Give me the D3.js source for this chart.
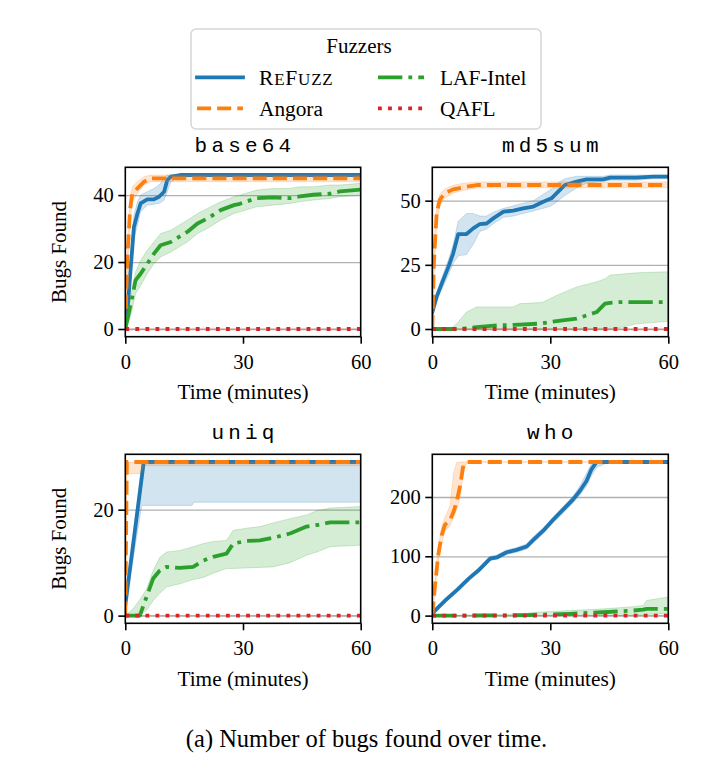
<!DOCTYPE html>
<html>
<head>
<meta charset="utf-8">
<script src="https://cdn.jsdelivr.net/npm/d3@7"></script>
<style>
html,body{margin:0;background:#fff}
svg{display:block}
text{font-family:"Liberation Serif","Times New Roman",serif;fill:#000}
</style>
</head>
<body>
<svg id="fig" width="721" height="775"></svg>
<script>
// ── Bugs found over time, 4 benchmarks × 4 fuzzers (median line + min/max band) ──

const TITLES=['base64','md5sum','uniq','who'];
const FUZZERS=['REFUZZ','Angora','LAF-Intel','QAFL'];
const X_TICKS=[0,30,60];
const b64Ticks=[0,20,40], md5Ticks=[0,25,50], uniqTicks=[0,20], whoTicks=[0,100,200];

// base64
const b64RefT =[0,0.5,1.3,2.2,3.1,3.9,5.6,7.3,8.6,9.9,10.7,11.6,14,60];
const b64Ref  =[3,4.5,17,30.5,34.5,37.5,38.7,38.7,39.5,41,44.5,45.5,46,46];
const b64RefLo=[2,3,14,27,31,35,37,37.3,37.5,38.5,41,44,45.5,45.5];
const b64RefHi=[4,7,21,34,38,40,41,42,43,45,46,46,46,46];
const b64AngT =[0,0.5,1.2,1.8,3.1,4.8,6.5,8,60];
const b64Ang  =[0,20.5,35.5,40.5,42,44,45,45,45];
const b64AngLo=[0,16,32,38,40.5,43,44,44,44];
const b64AngHi=[0,25,39,42.5,44,45.5,46,46,46];
const b64LafT =[0,1.4,2.6,3.9,5.6,7.3,9,11.6,13.7,15.8,18.4,20.9,24.3,27.7,29.2,33.5,37.7,42,44.5,47.9,52.2,54.7,60];
const b64Laf  =[0,7.5,14.5,16.5,19.5,22.5,25,26,27.5,29,31.5,33,35.5,37,37.4,39.1,39.3,39.1,39.6,40.1,40.4,41.1,41.6];
const b64LafLo=[0,4,10.5,13,16.5,19.5,21.5,23,24.5,26,28.5,30,32.5,34.5,35,36.5,37,37.5,38,38.5,39,39.5,40];
const b64LafHi=[0,10,17,20.5,23.5,26,28.5,29.5,31,32.5,34.5,36,38,39.5,40,41.5,42,42,42.5,42.5,43,43,43.5];
const b64QaflT=[0,60], b64Qafl=[0,0];

// md5sum
const md5RefT =[0,1.1,2.4,4.1,5.3,6.6,8.7,10.4,12.1,13.8,15.5,18.1,20.6,23.1,25.7,28.2,30.3,32,33.7,36.7,39.2,43.5,45.2,51.9,56.2,60];
const md5Ref  =[6.5,12.5,17.7,24.2,29.4,37,37,39.2,40.9,41.1,43.1,45.7,46.1,47,47.7,49.6,50.9,53.5,56.1,57.4,58.3,58.3,59,59,59.4,59.4];
const md5RefLo=[5.5,11,15.5,21,25.5,28.5,29,33,38,39,41,43.5,44,45,46,47,48,50,52,55,56.8,57.5,58,58,58.5,58.5];
const md5RefHi=[7.5,14,20,27,33,42,45,45,44,44,45.5,47,48,49,50,52.5,54.5,57,58.5,59.5,59.5,59.5,60,60,60,60];
const md5AngT =[0,0.4,1.1,1.9,3.2,5.3,7.9,11.3,60];
const md5Ang  =[0,25.5,45,50.3,52.9,54.4,55.2,56.1,56.1];
const md5AngLo=[0,20,41,48,51,53,54,55,55];
const md5AngHi=[0,31,48.5,52.5,54.5,56,56.8,57.3,57.3];
const md5LafT =[0,5,6.2,8.7,11.3,16.4,20.6,22.3,27.4,28.2,31.6,36.7,41.8,43.9,45.2,47.7,51.9,60];
const md5Laf  =[0,0,0,0.2,0.7,1.4,1.6,1.7,2.1,2.3,3.1,4,6.6,9.9,10.2,10.5,10.5,10.5];
const md5LafLo=[0,0,0,0,0,0,0,0,0,0,0,0,0,0,0,0.5,2,3];
const md5LafHi=[0,0.5,2,6.6,8.6,8.6,8.6,9.9,10.3,10.5,13.1,16.4,18.4,19.5,21,21.3,21.9,22.3];
const md5QaflT=[0,60], md5Qafl=[0,0];

// uniq
const uniqRefT =[0,4.2,4.7,17,17.5,60];
const uniqRef  =[2,26.1,29,29,29,29];
const uniqRefLo=[1.5,20.8,20.8,20.8,21.4,21.4];
const uniqRefHi=[3,28.5,29,29,29,29];
const uniqAngT =[0,0.4,3.7,5,60];
const uniqAng  =[0,29,29,29,29];
const uniqAngLo=[0,26.8,26.8,28.3,28.3];
const uniqAngHi=[0,29,29,29,29];
const uniqLafT =[0,2,3.7,5.4,7.1,8.8,10.5,13.9,17.3,19.9,22.4,25.8,27.5,30.9,34.3,37.7,42,46.2,48.8,52.2,60];
const uniqLaf  =[0,0,0,3.5,7,8.5,9.2,9,9.2,10.4,11.1,11.7,13.6,14.1,14.2,14.7,15.5,16.8,17.1,17.6,17.6];
const uniqLafLo=[0,0,0,1,2.8,4.2,5.4,6,6.8,7.2,8,8.9,8.9,9,9.1,9.2,10,11.4,12,13,13.3];
const uniqLafHi=[0,1.3,3,5,8.5,11,12,12.3,13,13.6,14,14.2,16.1,16.5,16.8,17.5,18.3,19,19.8,20.3,20.6];
const uniqQaflT=[0,60], uniqQafl=[0,0];

// who
const whoRefT =[0,3.2,6.6,9.2,11.7,14.7,16.4,18.9,21.4,24,25.7,28.2,30.8,33.3,35.8,37.5,39.2,40.5,41.8,45,60];
const whoRef  =[4,25,45,62,76,96,98,106.8,110.8,116.5,127.8,143.2,162,179,196,210,227,247,259,259,259];
const whoRefLo=[3,22,42,59,73,93,95,103,107,112,123,138,157,173,190,203,218,236,250,259,259];
const whoRefHi=[6,28,49,66,80,100,102,110.5,114.5,121,133,148,167,184,202,218,240,257,259,259,259];
const whoAngT =[0,0.7,1.5,2.4,3.2,4.5,5.4,6.2,7.1,7.9,8.8,60];
const whoAng  =[0,51,102,136,153,161,175,192,220,254,259,259];
const whoAngLo=[0,42,90,122,142,152,165,178,200,240,259,259];
const whoAngHi=[0,60,115,150,165,185,240,258,259,259,259,259];
const whoLafT =[0,18,24,26.5,35,43.5,51,53.6,54.5,60];
const whoLaf  =[0,0.3,1,1.5,3,5.7,8.5,10,11.4,11.4];
const whoLafLo=[0,0,0,0,0,0,0.5,1,2,3];
const whoLafHi=[0,2,4,5.7,8.5,11.4,15,17,25.6,31.3];
const whoQaflT=[0,60], whoQafl=[0,0];

const COLORS=['#1f77b4','#ff7f0e','#2ca02c','#d62728'];
const LW=3.8;
const DASH=[null,`${3.7*LW},${1.6*LW}`,`${6.4*LW},${1.6*LW},${1*LW},${1.6*LW}`,`${1*LW},${1.65*LW}`];

const COL_X=[125.3,432.3], COL_W=[235.4,236];
const ROW_Y=[167.3,454.3], ROW_H=[169.4,169];

function ser(t,v,lo,hi){return {t,v,lo:lo||v,hi:hi||v};}
const panels=[
  {title:TITLES[0],ticks:b64Ticks,ylabel:true,series:[
    ser(b64RefT,b64Ref,b64RefLo,b64RefHi),ser(b64AngT,b64Ang,b64AngLo,b64AngHi),
    ser(b64LafT,b64Laf,b64LafLo,b64LafHi),ser(b64QaflT,b64Qafl)]},
  {title:TITLES[1],ticks:md5Ticks,ylabel:false,series:[
    ser(md5RefT,md5Ref,md5RefLo,md5RefHi),ser(md5AngT,md5Ang,md5AngLo,md5AngHi),
    ser(md5LafT,md5Laf,md5LafLo,md5LafHi),ser(md5QaflT,md5Qafl)]},
  {title:TITLES[2],ticks:uniqTicks,ylabel:true,series:[
    ser(uniqRefT,uniqRef,uniqRefLo,uniqRefHi),ser(uniqAngT,uniqAng,uniqAngLo,uniqAngHi),
    ser(uniqLafT,uniqLaf,uniqLafLo,uniqLafHi),ser(uniqQaflT,uniqQafl)]},
  {title:TITLES[3],ticks:whoTicks,ylabel:false,series:[
    ser(whoRefT,whoRef,whoRefLo,whoRefHi),ser(whoAngT,whoAng,whoAngLo,whoAngHi),
    ser(whoLafT,whoLaf,whoLafLo,whoLafHi),ser(whoQaflT,whoQafl)]}
];

const svg=d3.select('#fig');
svg.append('rect').attr('width',721).attr('height',775).attr('fill','#fff');

function drawPanel(p,i){
  const col=i%2,row=Math.floor(i/2);
  const w=COL_W[col],h=ROW_H[row];
  const all=p.series.flatMap(s=>[...s.v,...s.lo,...s.hi]);
  const lo=d3.min(all),hi=d3.max(all),pad=(hi-lo)*0.05;
  const x=d3.scaleLinear().domain([0,60]).range([0,w]);
  const y=d3.scaleLinear().domain([lo-pad,hi+pad]).range([h,0]);
  const g=svg.append('g').attr('transform',`translate(${COL_X[col]},${ROW_Y[row]})`);

  const cid='clip'+i;
  g.append('clipPath').attr('id',cid).append('rect').attr('width',w).attr('height',h);

  // horizontal grid
  g.append('g').call(d3.axisLeft(y).tickValues(p.ticks).tickSize(-w).tickFormat(''))
    .call(a=>a.select('.domain').remove())
    .selectAll('line').attr('stroke','#b0b0b0').attr('stroke-width',1.3);

  const plot=g.append('g').attr('clip-path',`url(#${cid})`);
  const area=d3.area().x(d=>x(d.t)).y0(d=>y(d.lo)).y1(d=>y(d.hi));
  const line=d3.line().x(d=>x(d.t)).y(d=>y(d.v));

  p.series.forEach((s,k)=>{
    const pts=s.t.map((t,j)=>({t,v:s.v[j],lo:s.lo[j],hi:s.hi[j]}));
    plot.append('path').datum(pts).attr('d',area)
      .attr('fill',COLORS[k]).attr('fill-opacity',0.2)
      .attr('stroke',COLORS[k]).attr('stroke-opacity',0.2).attr('stroke-width',1);
    plot.append('path').datum(pts).attr('d',line)
      .attr('fill','none').attr('stroke',COLORS[k]).attr('stroke-width',LW)
      .attr('stroke-linejoin','round')
      .attr('stroke-linecap',k===0?'square':'butt')
      .attr('stroke-dasharray',DASH[k]);
  });

  // axes
  const xa=g.append('g').attr('transform',`translate(0,${h})`)
    .call(d3.axisBottom(x).tickValues(X_TICKS).tickSize(7).tickPadding(10.5).tickSizeOuter(0));
  const ya=g.append('g')
    .call(d3.axisLeft(y).tickValues(p.ticks).tickSize(7).tickPadding(4.5).tickSizeOuter(0));
  [xa,ya].forEach(a=>{
    a.select('.domain').remove();
    a.selectAll('line').attr('stroke','#000').attr('stroke-width',1.6);
    a.selectAll('text').attr('font-size',20.5).attr('font-family','"Liberation Serif",serif').attr('fill','#000');
  });

  g.append('rect').attr('width',w).attr('height',h)
    .attr('fill','none').attr('stroke','#000').attr('stroke-width',1.6);

  g.append('text').attr('x',w/2+2).attr('y',-15.3).attr('text-anchor','middle')
    .attr('font-size',21).attr('letter-spacing',4.2)
    .style('font-family','"Liberation Mono","DejaVu Sans Mono",monospace')
    .text(p.title);

  g.append('text').attr('x',w/2).attr('y',h+62.3).attr('text-anchor','middle')
    .attr('font-size',21.3).text('Time (minutes)');

  if(p.ylabel){
    g.append('text').attr('transform',`translate(${-59.5},${h/2}) rotate(-90)`)
      .attr('text-anchor','middle').attr('font-size',21).text('Bugs Found');
  }
}
panels.forEach(drawPanel);

// ── legend ──
const lg=svg.append('g');
lg.append('rect').attr('x',191).attr('y',29).attr('width',350).attr('height',100).attr('rx',5)
  .attr('fill','#fff').attr('fill-opacity',0.8).attr('stroke','#d6d6d6').attr('stroke-width',1.5);
lg.append('text').attr('x',359).attr('y',53.3).attr('text-anchor','middle').attr('font-size',21).text('Fuzzers');
const LEG_X=[197,378], LEG_Y=[77.3,108.3];
FUZZERS.forEach((name,k)=>{
  const cx=LEG_X[Math.floor(k/2)], cy=LEG_Y[k%2];
  lg.append('line').attr('x1',cx).attr('x2',cx+46).attr('y1',cy).attr('y2',cy)
    .attr('stroke',COLORS[k]).attr('stroke-width',LW)
    .attr('stroke-linecap',k===0?'square':'butt').attr('stroke-dasharray',DASH[k]);
  const t=lg.append('text').attr('x',cx+62).attr('y',cy+7.5).attr('font-size',21.3);
  if(name==='REFUZZ'){
    // small caps: R e F u z z
    [['R',21.5],['E',17],['F',21.5],['UZZ',17]].forEach(([s,fs])=>t.append('tspan').attr('font-size',fs).text(s));
    t.attr('letter-spacing',0.8);
  }else t.text(name);
});

// caption
svg.append('text').attr('x',366.5).attr('y',746.7).attr('text-anchor','middle')
  .attr('font-size',24.5).text('(a) Number of bugs found over time.');
</script>
</body>
</html>
